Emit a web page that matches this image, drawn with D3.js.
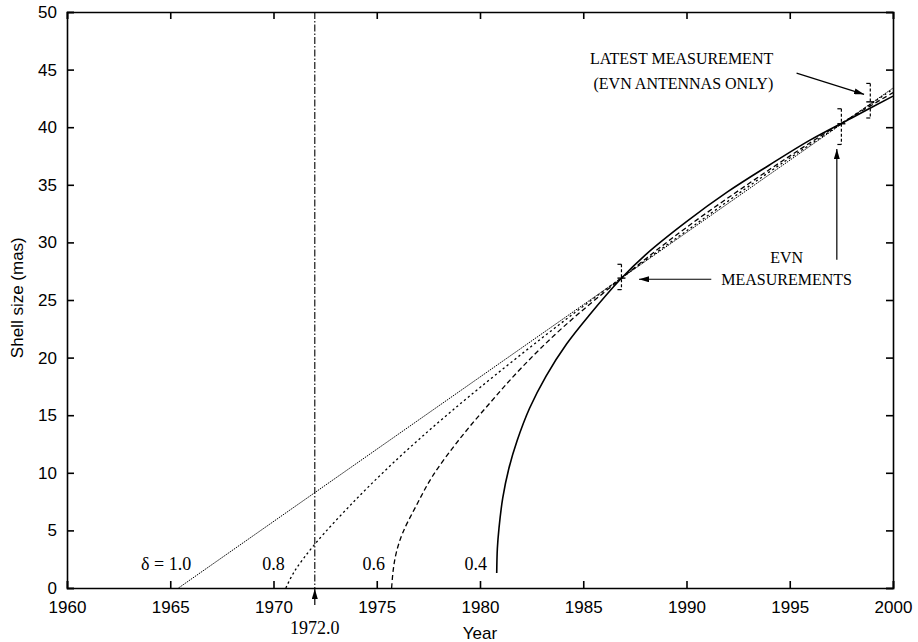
<!DOCTYPE html>
<html>
<head>
<meta charset="utf-8">
<script src="https://cdn.jsdelivr.net/npm/d3@7"></script>
<style>
  body { margin: 0; background: #fff; }
  .axis text { font-family: "Liberation Sans", Arial, sans-serif; font-size: 17px; fill: #000; }
  .axis path, .axis line { stroke: #000; stroke-width: 1.6; }
  .serif { font-family: "Liberation Serif", "Times New Roman", serif; fill: #000; }
</style>
</head>
<body>
<div id="app"></div>
<script>
// axis ticks
const xTicks = [1960, 1965, 1970, 1975, 1980, 1985, 1990, 1995, 2000];
const yTicks = [0, 5, 10, 15, 20, 25, 30, 35, 40, 45, 50];

// expansion curves: [year, shell size (mas)]
const delta10 = [[1965.4, 0], [2000, 43.4]];
const delta08 = [[1970.6, 0], [1971, 1.4], [1972, 3.8], [1974, 7.7], [1976, 11.2], [1978, 14.4],
  [1980, 17.4], [1983, 21.7], [1986, 25.8], [1990, 31.0], [1994, 36.1], [1997, 39.7], [2000, 43.3]];
const delta06 = [[1975.72, 0], [1975.8, 1.6], [1975.95, 3.1], [1976.26, 4.8], [1976.9, 7.1],
  [1977.7, 9.7], [1979, 12.9], [1980.5, 16.1], [1982, 19.1], [1984, 22.6], [1987, 27.1],
  [1990, 31.3], [1994, 36.3], [1997, 39.8], [2000, 43.0]];
const delta04 = [[1980.81, 1.3], [1980.84, 3.4], [1980.92, 5.2], [1981.1, 7.8], [1981.4, 10.4],
  [1981.8, 12.8], [1982.4, 15.6], [1983.2, 18.4], [1984.2, 21.2], [1985.3, 23.7], [1986.8, 26.8],
  [1988, 28.9], [1990, 31.8], [1992, 34.4], [1994, 36.7], [1996, 38.9], [1998, 40.8], [2000, 42.7]];

// EVN measurements with error bars
const measYear = [1986.85, 1997.5, 1998.9];
const measSize = [26.9, 40.3, 42.2];
const measLow = [25.9, 38.5, 40.8];
const measHigh = [28.1, 41.6, 43.8];

const deltaLabels = ["\u03b4 = 1.0", "0.8", "0.6", "0.4"];
const deltaLabelYear = [1964.8, 1970.0, 1974.85, 1979.8];

const W = 918, H = 642;
const margin = { top: 12, right: 25, bottom: 54, left: 67 };
const width = W - margin.left - margin.right;
const height = H - margin.top - margin.bottom;

const x = d3.scaleLinear().domain([1960, 2000]).range([0, width]);
const y = d3.scaleLinear().domain([0, 50]).range([height, 0]);

const svg = d3.select("#app").append("svg")
  .attr("width", W).attr("height", H);

svg.append("defs").append("marker")
  .attr("id", "head")
  .attr("viewBox", "0 0 10 6")
  .attr("refX", 10).attr("refY", 3)
  .attr("markerWidth", 10).attr("markerHeight", 6)
  .attr("markerUnits", "userSpaceOnUse")
  .attr("orient", "auto")
  .append("path").attr("d", "M0,0 L10,3 L0,6 Z").attr("fill", "#000");

const g = svg.append("g").attr("transform", `translate(${margin.left},${margin.top})`);

// vertical marker at 1972.0
g.append("line")
  .attr("x1", x(1972)).attr("x2", x(1972))
  .attr("y1", 0).attr("y2", height)
  .attr("stroke", "#000").attr("stroke-width", 1.1)
  .attr("stroke-dasharray", "7,2,1.5,2");

// curves
const line = d3.line().x(d => x(d[0])).y(d => y(d[1])).curve(d3.curveCatmullRom.alpha(0.5));
const curves = [
  { data: delta10, dash: "1.5,1", w: 1 },
  { data: delta08, dash: "2.2,2.8", w: 1.3 },
  { data: delta06, dash: "5,3", w: 1.3 },
  { data: delta04, dash: null, w: 1.6 }
];
g.selectAll(".curve").data(curves).enter().append("path")
  .attr("class", "curve")
  .attr("d", d => line(d.data))
  .attr("fill", "none")
  .attr("stroke", "#000")
  .attr("stroke-width", d => d.w)
  .attr("stroke-dasharray", d => d.dash);

// error bars
const meas = measYear.map((t, i) => ({ t, s: measSize[i], lo: measLow[i], hi: measHigh[i] }));
const eb = g.selectAll(".eb").data(meas).enter().append("g").attr("class", "eb");
eb.append("line")
  .attr("x1", d => x(d.t)).attr("x2", d => x(d.t))
  .attr("y1", d => y(d.hi)).attr("y2", d => y(d.lo))
  .attr("stroke", "#000").attr("stroke-width", 1.2).attr("stroke-dasharray", "3,2");
eb.append("line")
  .attr("x1", d => x(d.t) - 4).attr("x2", d => x(d.t))
  .attr("y1", d => y(d.hi)).attr("y2", d => y(d.hi))
  .attr("stroke", "#000").attr("stroke-width", 1.2);
eb.append("line")
  .attr("x1", d => x(d.t) - 4).attr("x2", d => x(d.t))
  .attr("y1", d => y(d.lo)).attr("y2", d => y(d.lo))
  .attr("stroke", "#000").attr("stroke-width", 1.2);
eb.append("line")
  .attr("x1", d => x(d.t) - 4).attr("x2", d => x(d.t) + 4)
  .attr("y1", d => y(d.s)).attr("y2", d => y(d.s))
  .attr("stroke", "#000").attr("stroke-width", 1.4);

// axes, ticks inward on all four sides
g.append("g").attr("class", "axis")
  .attr("transform", `translate(0,${height})`)
  .call(d3.axisBottom(x).tickValues(xTicks).tickFormat(d3.format("d")).tickSize(-7).tickPadding(13));
g.append("g").attr("class", "axis")
  .call(d3.axisTop(x).tickValues(xTicks).tickFormat("").tickSize(-7));
g.append("g").attr("class", "axis")
  .call(d3.axisLeft(y).tickValues(yTicks).tickSize(-7).tickPadding(10));
g.append("g").attr("class", "axis")
  .attr("transform", `translate(${width},0)`)
  .call(d3.axisRight(y).tickValues(yTicks).tickFormat("").tickSize(-7));

// axis titles
g.append("text")
  .attr("x", width / 2).attr("y", height + 51)
  .attr("text-anchor", "middle")
  .style("font-family", "Liberation Sans, Arial, sans-serif").style("font-size", "17px")
  .text("Year");
g.append("text")
  .attr("transform", `translate(${-margin.left + 23},${y(25.2)}) rotate(-90)`)
  .attr("text-anchor", "middle")
  .style("font-family", "Liberation Sans, Arial, sans-serif").style("font-size", "17px")
  .text("Shell size (mas)");

// delta labels
g.selectAll(".dl").data(deltaLabels).enter().append("text")
  .attr("class", "serif")
  .attr("x", (d, i) => x(deltaLabelYear[i]))
  .attr("y", y(1.6))
  .attr("text-anchor", "middle")
  .style("font-size", "18px")
  .text(d => d);

// 1972.0 label and arrow
g.append("line")
  .attr("x1", x(1972)).attr("x2", x(1972))
  .attr("y1", height + 17).attr("y2", height + 1)
  .attr("stroke", "#000").attr("stroke-width", 1.2)
  .attr("marker-end", "url(#head)");
g.append("text").attr("class", "serif")
  .attr("x", x(1972)).attr("y", height + 46)
  .attr("text-anchor", "middle").style("font-size", "18px")
  .text("1972.0");

// annotations
g.append("text").attr("class", "serif")
  .attr("x", x(1994.2)).attr("y", y(45.5))
  .attr("text-anchor", "end").style("font-size", "16px")
  .text("LATEST MEASUREMENT");
g.append("text").attr("class", "serif")
  .attr("x", x(1994.2)).attr("y", y(43.3))
  .attr("text-anchor", "end").style("font-size", "16px")
  .text("(EVN ANTENNAS ONLY)");
g.append("line")
  .attr("x1", x(1995.33)).attr("y1", y(44.7))
  .attr("x2", x(1998.6)).attr("y2", y(42.85))
  .attr("stroke", "#000").attr("stroke-width", 1.2)
  .attr("marker-end", "url(#head)");

g.append("text").attr("class", "serif")
  .attr("x", x(1994.85)).attr("y", y(28.2))
  .attr("text-anchor", "middle").style("font-size", "16px")
  .text("EVN");
g.append("text").attr("class", "serif")
  .attr("x", x(1994.85)).attr("y", y(26.3))
  .attr("text-anchor", "middle").style("font-size", "16px")
  .text("MEASUREMENTS");
g.append("line")
  .attr("x1", x(1997.28)).attr("y1", y(28.5))
  .attr("x2", x(1997.28)).attr("y2", y(38.1))
  .attr("stroke", "#000").attr("stroke-width", 1.2)
  .attr("marker-end", "url(#head)");
g.append("line")
  .attr("x1", x(1991.2)).attr("y1", y(26.8))
  .attr("x2", x(1987.7)).attr("y2", y(26.8))
  .attr("stroke", "#000").attr("stroke-width", 1.2)
  .attr("marker-end", "url(#head)");
</script>
</body>
</html>
